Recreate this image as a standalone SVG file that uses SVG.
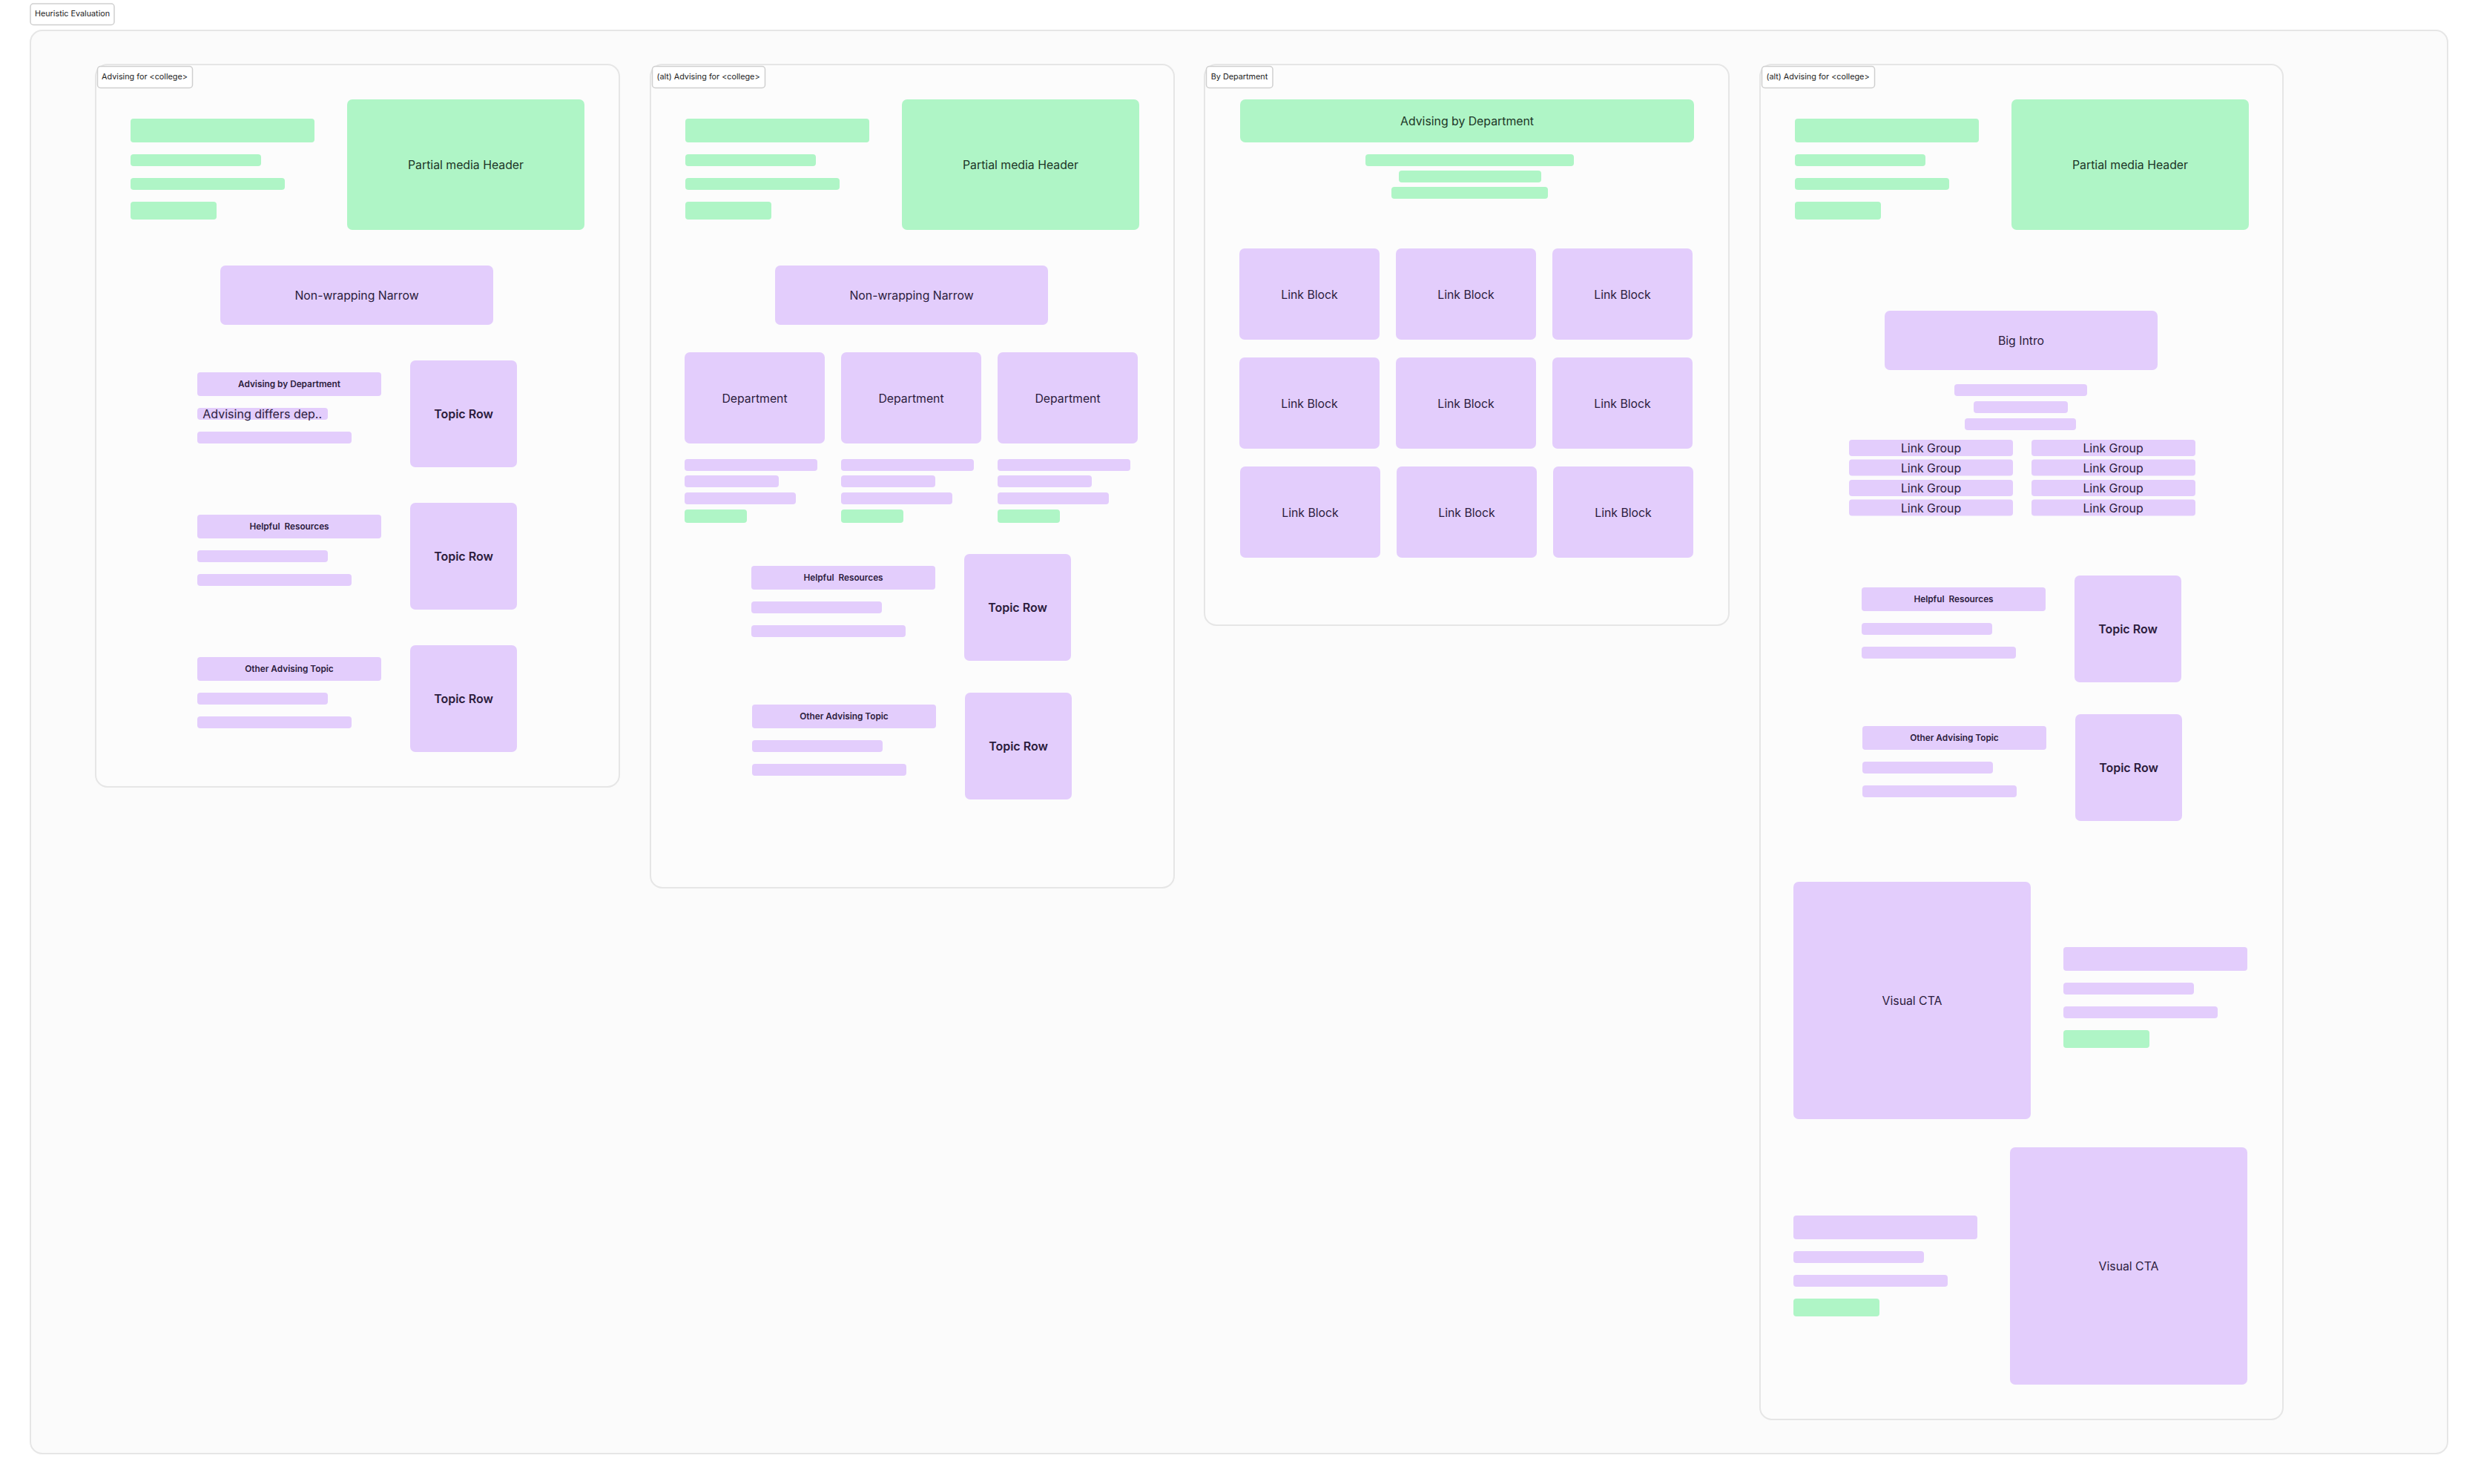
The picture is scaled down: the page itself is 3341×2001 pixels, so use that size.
<svg xmlns="http://www.w3.org/2000/svg" width="3341" height="2001" viewBox="0 0 3341 2001">
<style>
text{font-family:"Inter","Liberation Sans",sans-serif;text-anchor:middle}
.frame{fill:#fcfcfc;stroke:#e6e6e6;stroke-width:2}
.outer{fill:#fbfbfb}
.tag{fill:#fff;stroke:#cfcfcf;stroke-width:1.5}
.tag-t{font-size:10.8px;fill:#1a1a1a}
.g{fill:#aff5c6}
.p{fill:#e3cdfc}
.gt{font-size:15.8px;fill:#1c3527}
.pt{font-size:15.8px;fill:#2c1c3d}
.ph{font-size:11.8px;font-weight:600;fill:#2c1c3d;white-space:pre}
.tr{font-size:16px;font-weight:600;fill:#2c1c3d}
.ad{font-size:16px;fill:#2c1c3d}
</style>
<rect width="3341" height="2001" fill="#ffffff"/>
<g id="board">
<rect class="frame outer" x="41" y="41" width="3259" height="1919" rx="16"/>
<g id="board-label"><rect class="tag" x="41" y="5" width="113" height="28.5" rx="4"/><text class="tag-t" x="97.5" y="22.3">Heuristic Evaluation</text></g>
</g>
<g id="connectors"/>

<g id="panel-1">
<rect class="frame" x="129" y="87" width="706" height="974" rx="16"/>
<g id="p1-label"><rect class="tag" x="131.5" y="89.5" width="128" height="29" rx="4"/><text class="tag-t" x="195" y="107.3">Advising for &lt;college&gt;</text></g>
<g id="p1-header"><rect class="g" x="176" y="160" width="248" height="32" rx="4"/><rect class="g" x="176" y="208" width="176" height="16" rx="4"/><rect class="g" x="176" y="240" width="208" height="16" rx="4"/><rect class="g" x="176" y="272" width="116" height="24" rx="4"/></g>
<g id="p1-media"><rect class="g" x="468" y="134" width="320" height="176" rx="7"/><text class="gt" x="628" y="227.5">Partial media Header</text></g>
<g id="p1-narrow"><rect class="p" x="297" y="358" width="368" height="80" rx="7"/><text class="pt" x="481" y="403.5">Non-wrapping Narrow</text></g>
<g id="p1-row1"><rect class="p" x="266" y="502" width="248" height="32" rx="4"/><text class="ph" x="390" y="522">Advising by Department</text><rect class="p" x="266" y="550" width="176" height="16" rx="4"/><text class="ad" x="353.7" y="564">Advising differs dep..</text><rect class="p" x="266" y="582" width="208" height="16" rx="4"/></g>
<g id="p1-topic1"><rect class="p" x="553" y="486" width="144" height="144" rx="7"/><text class="tr" x="625" y="563.5">Topic Row</text></g>
<g id="p1-row2"><rect class="p" x="266" y="694" width="248" height="32" rx="4"/><text class="ph" x="390" y="714">Helpful  Resources</text><rect class="p" x="266" y="742" width="176" height="16" rx="4"/><rect class="p" x="266" y="774" width="208" height="16" rx="4"/></g>
<g id="p1-topic2"><rect class="p" x="553" y="678" width="144" height="144" rx="7"/><text class="tr" x="625" y="755.5">Topic Row</text></g>
<g id="p1-row3"><rect class="p" x="266" y="886" width="248" height="32" rx="4"/><text class="ph" x="390" y="906">Other Advising Topic</text><rect class="p" x="266" y="934" width="176" height="16" rx="4"/><rect class="p" x="266" y="966" width="208" height="16" rx="4"/></g>
<g id="p1-topic3"><rect class="p" x="553" y="870" width="144" height="144" rx="7"/><text class="tr" x="625" y="947.5">Topic Row</text></g>
</g>

<g id="panel-2">
<rect class="frame" x="877" y="87" width="706" height="1110" rx="16"/>
<g id="p2-label"><rect class="tag" x="879.5" y="89.5" width="152" height="29" rx="4"/><text class="tag-t" x="955" y="107.3">(alt) Advising for &lt;college&gt;</text></g>
<g id="p2-header"><rect class="g" x="924" y="160" width="248" height="32" rx="4"/><rect class="g" x="924" y="208" width="176" height="16" rx="4"/><rect class="g" x="924" y="240" width="208" height="16" rx="4"/><rect class="g" x="924" y="272" width="116" height="24" rx="4"/></g>
<g id="p2-media"><rect class="g" x="1216" y="134" width="320" height="176" rx="7"/><text class="gt" x="1376" y="227.5">Partial media Header</text></g>
<g id="p2-narrow"><rect class="p" x="1045" y="358" width="368" height="80" rx="7"/><text class="pt" x="1229" y="403.5">Non-wrapping Narrow</text></g>
<g id="p2-dept1"><rect class="p" x="923" y="475" width="189" height="123" rx="7"/><text class="pt" x="1017.5" y="543">Department</text><rect class="p" x="923" y="619" width="179" height="16" rx="4"/><rect class="p" x="923" y="641" width="127" height="16" rx="4"/><rect class="p" x="923" y="664" width="150" height="16" rx="4"/><rect class="g" x="923" y="687" width="84" height="18" rx="4"/></g>
<g id="p2-dept2"><rect class="p" x="1134" y="475" width="189" height="123" rx="7"/><text class="pt" x="1228.5" y="543">Department</text><rect class="p" x="1134" y="619" width="179" height="16" rx="4"/><rect class="p" x="1134" y="641" width="127" height="16" rx="4"/><rect class="p" x="1134" y="664" width="150" height="16" rx="4"/><rect class="g" x="1134" y="687" width="84" height="18" rx="4"/></g>
<g id="p2-dept3"><rect class="p" x="1345" y="475" width="189" height="123" rx="7"/><text class="pt" x="1439.5" y="543">Department</text><rect class="p" x="1345" y="619" width="179" height="16" rx="4"/><rect class="p" x="1345" y="641" width="127" height="16" rx="4"/><rect class="p" x="1345" y="664" width="150" height="16" rx="4"/><rect class="g" x="1345" y="687" width="84" height="18" rx="4"/></g>
<g id="p2-row1"><rect class="p" x="1013" y="763" width="248" height="32" rx="4"/><text class="ph" x="1137" y="783">Helpful  Resources</text><rect class="p" x="1013" y="811" width="176" height="16" rx="4"/><rect class="p" x="1013" y="843" width="208" height="16" rx="4"/></g>
<g id="p2-topic1"><rect class="p" x="1300" y="747" width="144" height="144" rx="7"/><text class="tr" x="1372" y="824.5">Topic Row</text></g>
<g id="p2-row2"><rect class="p" x="1014" y="950" width="248" height="32" rx="4"/><text class="ph" x="1138" y="970">Other Advising Topic</text><rect class="p" x="1014" y="998" width="176" height="16" rx="4"/><rect class="p" x="1014" y="1030" width="208" height="16" rx="4"/></g>
<g id="p2-topic2"><rect class="p" x="1301" y="934" width="144" height="144" rx="7"/><text class="tr" x="1373" y="1011.5">Topic Row</text></g>
</g>

<g id="panel-3">
<rect class="frame" x="1624" y="87" width="707" height="756" rx="16"/>
<g id="p3-label"><rect class="tag" x="1626.5" y="89.5" width="89.5" height="29" rx="4"/><text class="tag-t" x="1671" y="107.3">By Department</text></g>
<g id="p3-header"><rect class="g" x="1672" y="134" width="612" height="58" rx="7"/><text class="gt" x="1978" y="168.5">Advising by Department</text><rect class="g" x="1841" y="208" width="281" height="16" rx="4"/><rect class="g" x="1886" y="230" width="192" height="16" rx="4"/><rect class="g" x="1876" y="252" width="211" height="16" rx="4"/></g>
<g id="p3-b1"><rect class="p" x="1671" y="335" width="189" height="123" rx="7"/><text class="pt" x="1765.5" y="403">Link Block</text></g>
<g id="p3-b2"><rect class="p" x="1882" y="335" width="189" height="123" rx="7"/><text class="pt" x="1976.5" y="403">Link Block</text></g>
<g id="p3-b3"><rect class="p" x="2093" y="335" width="189" height="123" rx="7"/><text class="pt" x="2187.5" y="403">Link Block</text></g>
<g id="p3-b4"><rect class="p" x="1671" y="482" width="189" height="123" rx="7"/><text class="pt" x="1765.5" y="550">Link Block</text></g>
<g id="p3-b5"><rect class="p" x="1882" y="482" width="189" height="123" rx="7"/><text class="pt" x="1976.5" y="550">Link Block</text></g>
<g id="p3-b6"><rect class="p" x="2093" y="482" width="189" height="123" rx="7"/><text class="pt" x="2187.5" y="550">Link Block</text></g>
<g id="p3-b7"><rect class="p" x="1672" y="629" width="189" height="123" rx="7"/><text class="pt" x="1766.5" y="697">Link Block</text></g>
<g id="p3-b8"><rect class="p" x="1883" y="629" width="189" height="123" rx="7"/><text class="pt" x="1977.5" y="697">Link Block</text></g>
<g id="p3-b9"><rect class="p" x="2094" y="629" width="189" height="123" rx="7"/><text class="pt" x="2188.5" y="697">Link Block</text></g>
</g>

<g id="panel-4">
<rect class="frame" x="2373" y="87" width="705" height="1827" rx="16"/>
<g id="p4-label"><rect class="tag" x="2375.5" y="89.5" width="152" height="29" rx="4"/><text class="tag-t" x="2451" y="107.3">(alt) Advising for &lt;college&gt;</text></g>
<g id="p4-header"><rect class="g" x="2420" y="160" width="248" height="32" rx="4"/><rect class="g" x="2420" y="208" width="176" height="16" rx="4"/><rect class="g" x="2420" y="240" width="208" height="16" rx="4"/><rect class="g" x="2420" y="272" width="116" height="24" rx="4"/></g>
<g id="p4-media"><rect class="g" x="2712" y="134" width="320" height="176" rx="7"/><text class="gt" x="2872" y="227.5">Partial media Header</text></g>
<g id="p4-intro"><rect class="p" x="2541" y="419" width="368" height="80" rx="7"/><text class="pt" x="2725" y="464.5">Big Intro</text><rect class="p" x="2635" y="518" width="179" height="16" rx="4"/><rect class="p" x="2661" y="541" width="127" height="16" rx="4"/><rect class="p" x="2649" y="564" width="150" height="16" rx="4"/></g>
<g id="p4-lg1"><rect class="p" x="2493" y="593" width="221" height="22" rx="4"/><text class="pt" x="2603.5" y="610">Link Group</text></g>
<g id="p4-lg2"><rect class="p" x="2493" y="619.5" width="221" height="22" rx="4"/><text class="pt" x="2603.5" y="636.5">Link Group</text></g>
<g id="p4-lg3"><rect class="p" x="2493" y="647" width="221" height="22" rx="4"/><text class="pt" x="2603.5" y="664">Link Group</text></g>
<g id="p4-lg4"><rect class="p" x="2493" y="673.5" width="221" height="22" rx="4"/><text class="pt" x="2603.5" y="690.5">Link Group</text></g>
<g id="p4-lg5"><rect class="p" x="2739" y="593" width="221" height="22" rx="4"/><text class="pt" x="2849" y="610">Link Group</text></g>
<g id="p4-lg6"><rect class="p" x="2739" y="619.5" width="221" height="22" rx="4"/><text class="pt" x="2849" y="636.5">Link Group</text></g>
<g id="p4-lg7"><rect class="p" x="2739" y="647" width="221" height="22" rx="4"/><text class="pt" x="2849" y="664">Link Group</text></g>
<g id="p4-lg8"><rect class="p" x="2739" y="673.5" width="221" height="22" rx="4"/><text class="pt" x="2849" y="690.5">Link Group</text></g>
<g id="p4-row1"><rect class="p" x="2510" y="792" width="248" height="32" rx="4"/><text class="ph" x="2634" y="812">Helpful  Resources</text><rect class="p" x="2510" y="840" width="176" height="16" rx="4"/><rect class="p" x="2510" y="872" width="208" height="16" rx="4"/></g>
<g id="p4-topic1"><rect class="p" x="2797" y="776" width="144" height="144" rx="7"/><text class="tr" x="2869" y="853.5">Topic Row</text></g>
<g id="p4-row2"><rect class="p" x="2511" y="979" width="248" height="32" rx="4"/><text class="ph" x="2635" y="999">Other Advising Topic</text><rect class="p" x="2511" y="1027" width="176" height="16" rx="4"/><rect class="p" x="2511" y="1059" width="208" height="16" rx="4"/></g>
<g id="p4-topic2"><rect class="p" x="2798" y="963" width="144" height="144" rx="7"/><text class="tr" x="2870" y="1040.5">Topic Row</text></g>
<g id="p4-cta1"><rect class="p" x="2418" y="1189" width="320" height="320" rx="7"/><text class="pt" x="2578" y="1354.5">Visual CTA</text></g>
<g id="p4-cta1-copy"><rect class="p" x="2782" y="1277" width="248" height="32" rx="4"/><rect class="p" x="2782" y="1325" width="176" height="16" rx="4"/><rect class="p" x="2782" y="1357" width="208" height="16" rx="4"/><rect class="g" x="2782" y="1389" width="116" height="24" rx="4"/></g>
<g id="p4-cta2"><rect class="p" x="2710" y="1547" width="320" height="320" rx="7"/><text class="pt" x="2870" y="1712.5">Visual CTA</text></g>
<g id="p4-cta2-copy"><rect class="p" x="2418" y="1639" width="248" height="32" rx="4"/><rect class="p" x="2418" y="1687" width="176" height="16" rx="4"/><rect class="p" x="2418" y="1719" width="208" height="16" rx="4"/><rect class="g" x="2418" y="1751" width="116" height="24" rx="4"/></g>
</g>
</svg>
